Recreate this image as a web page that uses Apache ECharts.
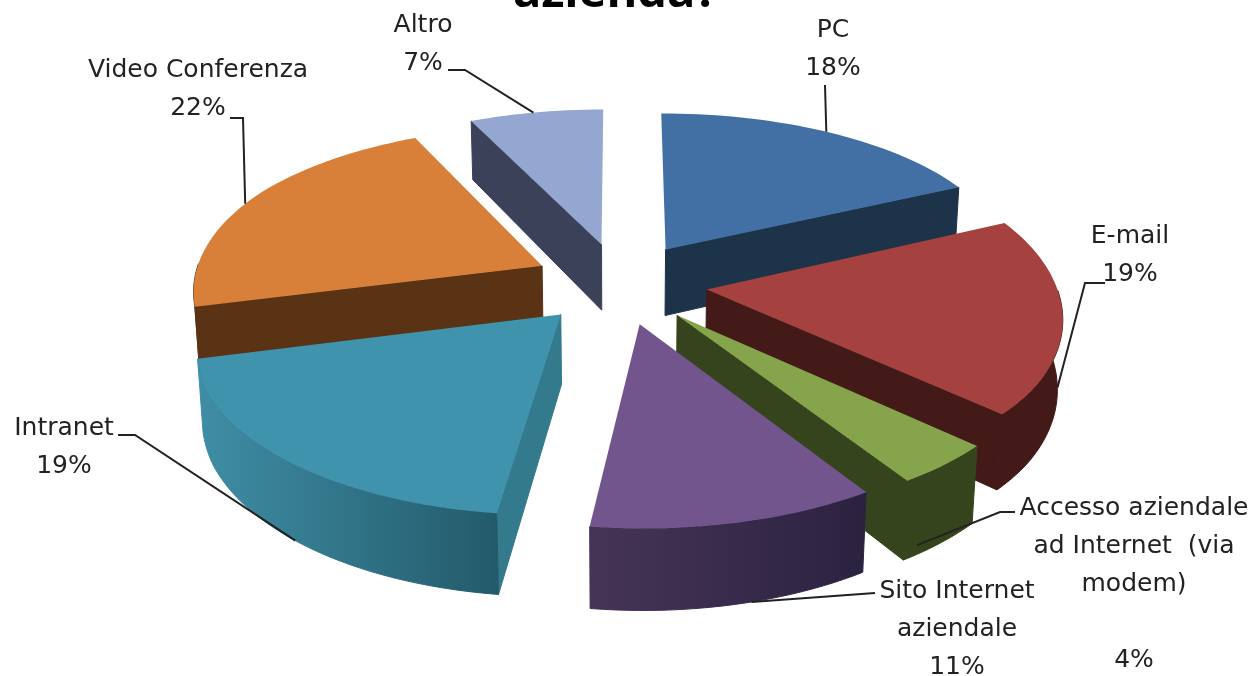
<!DOCTYPE html>
<html>
<head>
<meta charset="utf-8">
<style>
  html, body { margin: 0; padding: 0; background: #fff; }
  #chart { width: 1254px; height: 676px; }
</style>
</head>
<body>
<div id="chart"></div>
<script src="https://cdn.jsdelivr.net/npm/echarts@6/dist/echarts.min.js"></script>
<script>
const categories = ['PC', 'E-mail', 'Accesso aziendale\nad Internet  (via\nmodem)\n', 'Sito Internet\naziendale', 'Intranet', 'Video Conferenza', 'Altro'];
const values = [18, 19, 4, 11, 19, 22, 7];

// colori: piano superiore, fianchi, parete esterna (da sinistra a destra)
const topColors = ['#4270a4', '#a5413e', '#86a44b', '#71558c', '#3f93ad', '#d8803a', '#93a7d0'];
const sideColors = ['#1c3349', '#441a18', '#35441c', '#2b2240', '#327a8c', '#5a3314', '#3a4158'];
const wallColors = [['#1c3349', '#1c3349'], ['#441a18', '#441a18'], ['#35441c', '#35441c'], ['#463457', '#2b2240'], ['#3f8ea6', '#235a6a'], ['#5a3314', '#5a3314'], ['#3a4158', '#3a4158']];

// posizione etichette e linee guida
const labelLayout = [
  { x: 833, y: 11, elbow: [[825, 85]], anchor: [0.49, 0] },
  { x: 1130, y: 217, elbow: [[1105, 283], [1085, 283]], anchor: [0.59, 0.75] },
  { x: 1134, y: 489, elbow: [[1015, 512], [1000, 512]], anchor: [0.83, 0.88] },
  { x: 957, y: 572, elbow: [[875, 593]], anchor: [0.44, 1] },
  { x: 64, y: 409, elbow: [[118, 435], [135, 435]], anchor: [0.48, 1] },
  { x: 198, y: 51, elbow: [[230, 118], [243, 118]], anchor: [0.49, 0] },
  { x: 423, y: 6, elbow: [[448, 70], [465, 70]], anchor: [0.48, 0] }
];

// proiezione prospettica della torta
const cx = 620, cy = 283, scaleX = 349, scaleY = 163.4, depth = 68;
const perspY = 0.138, perspX = 0.13, perspSkew = 0.02, lean = 0.012, explode = 0.25;

const total = values.reduce((a, b) => a + b, 0);
const slices = [];
let acc = 0;
values.forEach((v) => {
  const start = acc / total * Math.PI * 2;
  acc += v;
  const end = acc / total * Math.PI * 2;
  slices.push({ start, end, mid: (start + end) / 2 });
});

function project(x, y, z) {
  const px = perspX + perspSkew * Math.max(-1, Math.min(1, y / 0.6));
  const wx = 1 - px * y;
  const wy = 1 - perspY * y;
  return [cx + scaleX * x / (wx + lean * z), cy + (scaleY * y + depth * z) / wy];
}

function slicePoint(s, angle, r, z) {
  const x = explode * Math.sin(s.mid) + r * Math.sin(angle);
  const y = -explode * Math.cos(s.mid) - r * Math.cos(angle);
  return project(x, y, z);
}

function arcAngles(s) {
  const out = [];
  const steps = Math.ceil((s.end - s.start) / 0.03);
  for (let k = 0; k <= steps; k++) {
    out.push(s.start + (s.end - s.start) * k / steps);
  }
  return out;
}

function polygon(points, fill, sealed) {
  return { type: 'polygon', shape: { points }, style: { fill, stroke: sealed ? fill : null, lineWidth: 1 } };
}

function renderSlice(params, api) {
  const i = api.value(0);
  const s = slices[i];
  const apexTop = slicePoint(s, s.start, 0, 0);
  const apexBottom = slicePoint(s, s.start, 0, 1);
  const angles = arcAngles(s);
  const arcTop = angles.map((a) => slicePoint(s, a, 1, 0));
  const children = [];
  // solo i fianchi rivolti verso l'osservatore
  if (-Math.sin(s.start) > 1e-6) {
    children.push(polygon([apexTop, arcTop[0], slicePoint(s, s.start, 1, 1), apexBottom], sideColors[i], true));
  }
  if (Math.sin(s.end) > 1e-6) {
    children.push(polygon([apexTop, arcTop[arcTop.length - 1], slicePoint(s, s.end, 1, 1), apexBottom], sideColors[i], true));
  }
  // la parete esterna si vede solo sul davanti
  const front = angles.filter((a) => Math.cos(a) < 0.02);
  if (front.length > 1) {
    const wallFill = new echarts.graphic.LinearGradient(0, 0, 1, 0, [
      { offset: 0, color: wallColors[i][0] },
      { offset: 1, color: wallColors[i][1] }
    ]);
    const upper = front.map((a) => slicePoint(s, a, 1, 0));
    const lower = front.map((a) => slicePoint(s, a, 1, 1));
    children.push(polygon(upper.concat(lower.reverse()), wallFill, true));
  }
  children.push(polygon([apexTop].concat(arcTop), topColors[i], false));
  return { type: 'group', children };
}

function renderLabel(params, api) {
  const i = api.value(0);
  const s = slices[i];
  const l = labelLayout[i];
  const angle = s.start + (s.end - s.start) * l.anchor[0];
  const end = slicePoint(s, angle, 1, l.anchor[1]);
  return {
    type: 'group',
    children: [
      { type: 'polyline', shape: { points: l.elbow.concat([end]) }, style: { stroke: '#222', lineWidth: 2, fill: null } },
      {
        type: 'text',
        style: {
          x: l.x, y: l.y,
          text: categories[i] + '\n' + api.value(1) + '%',
          fill: '#222',
          font: '25px "DejaVu Sans"',
          lineHeight: 38,
          textAlign: 'center',
          textVerticalAlign: 'top'
        }
      }
    ]
  };
}

// dal fondo verso l'osservatore
const drawOrder = values.map((v, i) => i).sort((a, b) => Math.cos(slices[b].mid) - Math.cos(slices[a].mid));

const chart = echarts.init(document.getElementById('chart'));
chart.setOption({
  animation: false,
  backgroundColor: '#fff',
  title: {
    text: 'azienda?',
    left: 513,
    top: -30,
    padding: 0,
    textStyle: { fontFamily: 'Open Sans', fontWeight: 'bold', fontSize: 47, color: '#000' }
  },
  series: [
    {
      type: 'custom',
      coordinateSystem: 'none',
      renderItem: renderSlice,
      data: drawOrder.map((i) => [i, values[i]]),
      silent: true
    },
    {
      type: 'custom',
      coordinateSystem: 'none',
      renderItem: renderLabel,
      data: values.map((v, i) => [i, v]),
      silent: true,
      z: 5
    }
  ]
});
</script>
</body>
</html>
